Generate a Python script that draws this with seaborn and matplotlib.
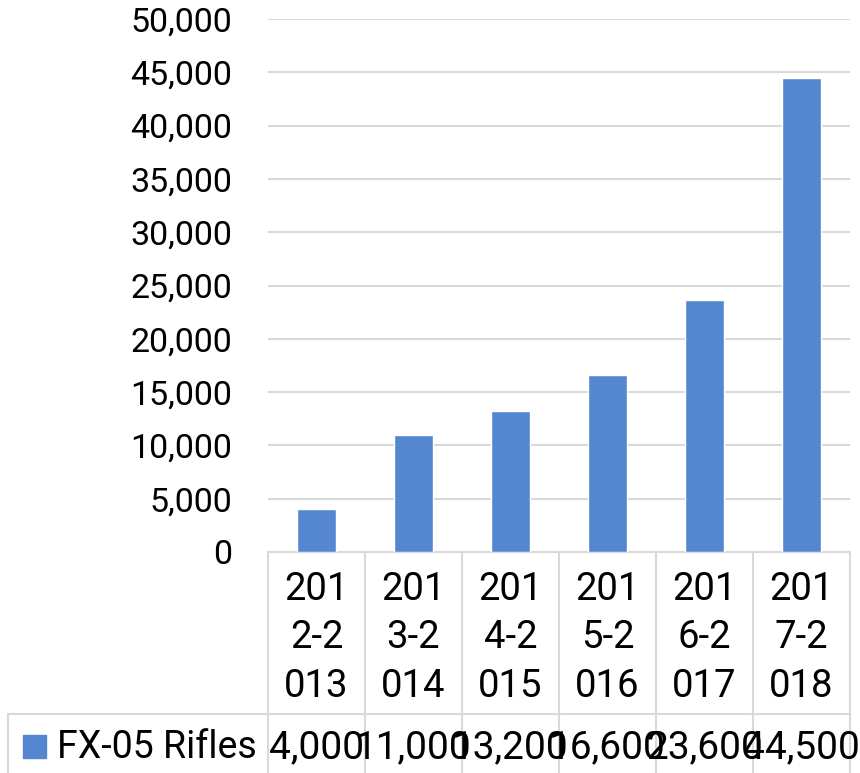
import matplotlib
matplotlib.use("Agg")
import matplotlib.pyplot as plt
import matplotlib.patches as mpatches
import matplotlib.transforms as mtransforms
import pandas as pd
import seaborn as sns
from matplotlib.ticker import FuncFormatter, MultipleLocator

# data
periods = ["2012-2013", "2013-2014", "2014-2015", "2015-2016", "2016-2017", "2017-2018"]
table_labels = ["201\n2-2\n013", "201\n3-2\n014", "201\n4-2\n015",
                "201\n5-2\n016", "201\n6-2\n017", "201\n7-2\n018"]
rifles = [4000, 11000, 13200, 16600, 23600, 44500]
series_name = "FX-05 Rifles"

BAR = "#5587D1"
GRID = "#D9D9D9"
W, H = 860, 773

sns.set_theme(style="white")
plt.rcParams["font.family"] = ["Roboto", "DejaVu Sans"]

df = pd.DataFrame({"period": periods, "value": rifles})

fig = plt.figure(figsize=(W / 100, H / 100), dpi=100)
ax = fig.add_axes([268 / W, (H - 552) / H, (850 - 268) / W, (552 - 19) / H])

sns.barplot(data=df, x="period", y="value", color=BAR, width=0.4,
            saturation=1, ax=ax, zorder=3)

ax.set_xlim(-0.5, len(periods) - 0.5)
ax.set_ylim(0, 50000)
ax.yaxis.set_major_locator(MultipleLocator(5000))
ax.yaxis.set_major_formatter(FuncFormatter(lambda v, _: f"{v:,.0f}"))
ax.grid(axis="y", color=GRID, linewidth=1.5, zorder=0)
ax.tick_params(axis="y", length=0, pad=26, labelsize=24.5, colors="black")
ax.set_xticks([])
ax.set_xlabel("")
ax.set_ylabel("")
for s in ax.spines.values():
    s.set_visible(False)

# data table under the plot
px = 1 / (552 - 19)  # one pixel in axes-y units
tr = mtransforms.blended_transform_factory(ax.transData, ax.transAxes)
row1_bot = -(714 - 552) * px
row2_bot = -(H - 552) * px
key_left = -0.5 - (268 - 8) / 97
line_kw = dict(color=GRID, linewidth=1.5, clip_on=False, transform=tr)

ax.plot([-0.5, len(periods) - 0.5], [0, 0], **line_kw)
ax.plot([key_left, len(periods) - 0.5], [row1_bot, row1_bot], **line_kw)
for i in range(len(periods) + 1):
    ax.plot([i - 0.5, i - 0.5], [0, row2_bot], **line_kw)
ax.plot([key_left, key_left], [row1_bot, row2_bot], **line_kw)

for i, lab in enumerate(table_labels):
    ax.text(i, -(638 - 552) * px, lab, transform=tr, ha="center", va="center",
            fontsize=27.5, linespacing=1.41, color="black")

val_y = -(748 - 552) * px
for i, v in enumerate(rifles):
    t = ax.text(i, val_y, f"{v:,}", transform=tr, ha="center", va="center",
                fontsize=28, color="black")
    cell = mpatches.Rectangle((i - 0.5, row2_bot), 1, row1_bot - row2_bot,
                              transform=tr, visible=False)
    ax.add_artist(cell)
    cell.set_clip_on(False)
    t.set_clip_path(cell)

# legend key in the table row
fig.patches.append(mpatches.Rectangle((23 / W, 1 - 758 / H), 23 / W, 23 / H,
                                      transform=fig.transFigure, color=BAR))
fig.text(57 / W, 1 - 748 / H, series_name, ha="left", va="center",
         fontsize=27, color="black")

fig.savefig("out.png", dpi=100)
